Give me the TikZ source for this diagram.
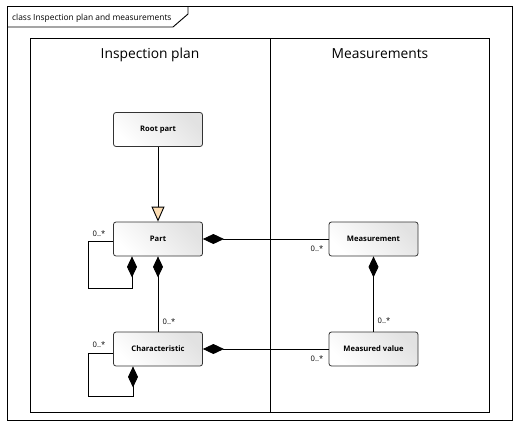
\documentclass[tikz,border=0pt]{standalone}
\usepackage{fontspec}
\setmainfont{Open Sans}
\usetikzlibrary{arrows.meta,calc}
\definecolor{peach}{RGB}{253,222,180}
\definecolor{boxgray}{RGB}{226,226,226}
\begin{document}
\begin{tikzpicture}[x=1pt,y=-1pt,
  classbox/.style={draw=black!80, line width=0.8pt, rounded corners=2.5pt,
    minimum width=89pt, minimum height=34pt, inner sep=0pt,
    left color=white, right color=boxgray, shading angle=135,
    font=\fontsize{7.6}{9}\selectfont\bfseries},
  mult/.style={font=\fontsize{7.6}{9}\selectfont, inner sep=0pt},
  conn/.style={line width=0.9pt, black},
  comp/.style={conn, {Diamond[length=21pt,width=10pt]}-},
  frame/.style={line width=0.9pt, black}]
\useasboundingbox (0,0) rectangle (518,426);
% outer frame and tab
\draw[frame] (7,6) rectangle (512,420);
\draw[frame] (7,27) -- (173,27) -- (188,14) -- (188,6);
\node[anchor=base west, inner sep=0pt, font=\fontsize{8.4}{10}\selectfont] (title) at (12,20) {class Inspection plan and measurements};
% inner swimlanes
\draw[frame] (30,38) rectangle (489,412);
\draw[frame] (270,38) -- (270,412);
\node[anchor=base, inner sep=0pt, font=\fontsize{13.8}{16}\selectfont] (h1) at (150,58) {Inspection plan};
\node[anchor=base, inner sep=0pt, font=\fontsize{13.8}{16}\selectfont] (h2) at (380,58) {Measurements};
% classes
\node[classbox] (root) at (158,129.5) {Root part};
\node[classbox] (part) at (158,239) {Part};
\node[classbox] (char) at (158,349) {Characteristic};
\node[classbox] (meas) at (373.5,239) {Measurement};
\node[classbox] (mval) at (373.5,349) {Measured value};
% generalization
\draw[conn, -{Triangle[open, length=15pt, width=13pt, fill=peach]}] (root.south) -- (part.north);
% compositions
\draw[comp] (part.east) -- (meas.west);
\draw[comp] (char.east) -- (mval.west);
\draw[comp] (part.south) -- (char.north);
\draw[comp] (meas.south) -- (mval.north);
% self loops
\draw[comp] ([xshift=-26pt]part.south) -- ++(0,32) -| ([yshift=-2pt]part.west -| 88,0) -- ([yshift=-2pt]part.west);
\draw[comp] ([xshift=-25pt]char.south) -- ++(0,30) -| ([yshift=-4pt]char.west -| 88,0) -- ([yshift=-4pt]char.west);
% multiplicities
\node[mult] (m1) at (99,234) {0..*};
\node[mult] (m2) at (99,345) {0..*};
\node[mult] (m3) at (169,322) {0..*};
\node[mult] (m4) at (317,249) {0..*};
\node[mult] (m5) at (384,321) {0..*};
\node[mult] (m6) at (317,359) {0..*};
\end{tikzpicture}
\end{document}
